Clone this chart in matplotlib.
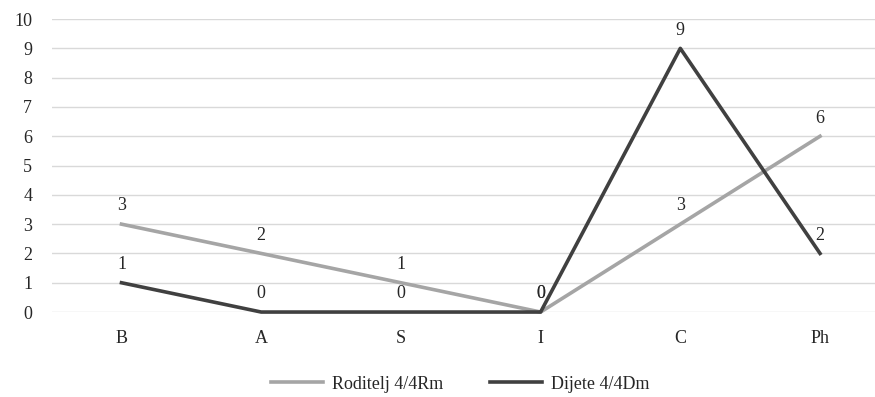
import matplotlib.pyplot as plt

categories = ['B', 'A', 'S', 'I', 'C', 'Ph']
roditelj = [3, 2, 1, 0, 3, 6]
dijete = [1, 0, 0, 0, 9, 2]
series_names = ['Roditelj 4/4Rm', 'Dijete 4/4Dm']

plt.rcParams['font.family'] = ['Liberation Serif', 'DejaVu Serif']

fig = plt.figure(figsize=(8.75, 3.97), dpi=100)
# plot area runs a bit past the right edge, as in the reference
ax = fig.add_axes([0.059, 0.214, 0.958, 0.738])

x = range(len(categories))
ax.plot(x, roditelj, color='#A5A5A5', lw=2.6, label=series_names[0], clip_on=False, zorder=3)
ax.plot(x, dijete, color='#404040', lw=2.6, label=series_names[1], clip_on=False, zorder=4)

# data labels above each point
for xi, v in zip(x, roditelj):
    ax.annotate(str(v), (xi, v), xytext=(0, 7), textcoords='offset points',
                ha='center', va='bottom', fontsize=13, color='#262626')
for xi, v in zip(x, dijete):
    ax.annotate(str(v), (xi, v), xytext=(0, 7), textcoords='offset points',
                ha='center', va='bottom', fontsize=13, color='#262626')

ax.set_xlim(-0.5, len(categories) - 0.5)
ax.set_ylim(0, 10)
ax.set_yticks(range(0, 11))
ax.set_xticks(list(x))
ax.set_xticklabels(categories)
ax.grid(axis='y', color='#D9D9D9', lw=1)
ax.set_axisbelow(True)
for s in ax.spines.values():
    s.set_visible(False)
ax.tick_params(length=0, labelsize=13, colors='#262626')
ax.tick_params(axis='x', pad=13)
ax.tick_params(axis='y', pad=14)

fig.legend(loc='lower center', bbox_to_anchor=(0.526, -0.03), ncol=2, frameon=False,
           fontsize=13, handlelength=2.9, handletextpad=0.5, columnspacing=2.6,
           labelcolor='#262626')

fig.savefig('out.png', dpi=100)
